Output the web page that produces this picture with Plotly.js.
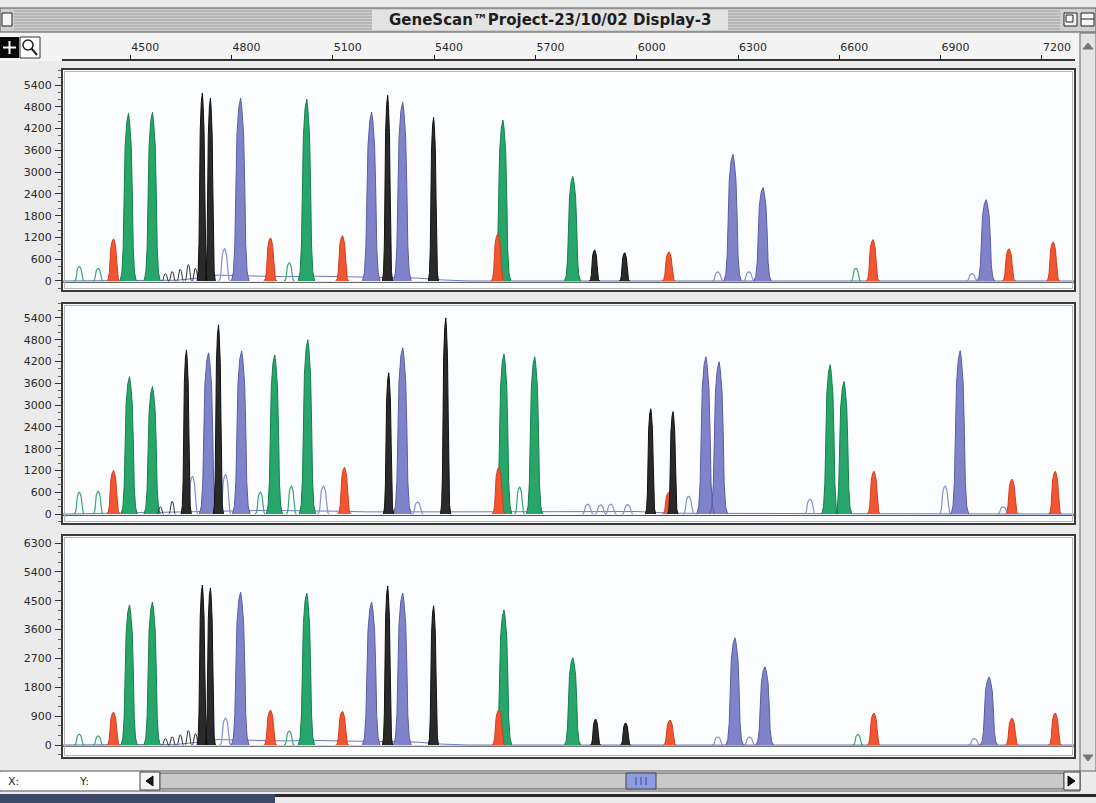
<!DOCTYPE html>
<html><head><meta charset="utf-8">
<script src="https://cdn.plot.ly/plotly-3.0.1.min.js"></script>
<style>html,body{margin:0;padding:0;background:#ebebeb;overflow:hidden}#chart{width:1096px;height:803px}</style>
</head><body><div id="chart"></div>
<script>
// ================= DATA =================
const titleText = 'GeneScan\u2122Project-23/10/02 Display-3';
const xTickVals = [4500, 4800, 5100, 5400, 5700, 6000, 6300, 6600, 6900, 7200];
const xTickText = ['4500', '4800', '5100', '5400', '5700', '6000', '6300', '6600', '6900', '7200'];
const yTicksA = [0, 600, 1200, 1800, 2400, 3000, 3600, 4200, 4800, 5400];
const yTicksB = [0, 900, 1800, 2700, 3600, 4500, 5400, 6300];

// Panel 1
const p1GreenPos = [4494, 4565, 5022, 5603, 5810];
const p1GreenHt  = [4620, 4650, 5010, 4430, 2880];
const p1GreenOutPos = [4349, 4405, 4971, 6649];
const p1GreenOutHt  = [400, 350, 500, 350];
const p1BluePos = [4826, 5214, 5306, 6284, 6373, 7034];
const p1BlueHt  = [5040, 4650, 4930, 3490, 2575, 2240];
const p1BlueOutPos = [4779, 6240, 6332, 6993];
const p1BlueOutHt  = [890, 250, 250, 200];
const p1BlackPos = [4713, 4737, 5262, 5398, 5875, 5964];
const p1BlackHt  = [5180, 5040, 5120, 4510, 860, 780];
const p1BlackSmPos = [4604, 4624, 4648, 4672, 4693];
const p1BlackSmHt  = [200, 260, 320, 450, 350];
const p1RedPos = [4450, 4915, 5128, 5588, 6095, 6699, 7102, 7233];
const p1RedHt  = [1160, 1190, 1250, 1300, 800, 1140, 890, 1080];
const p1BaseX = [4300, 4640, 4700, 4760, 4850, 4950, 5050, 5150, 5250, 5350, 5420, 5500, 7298];
const p1BaseY = [0, 20, 80, 160, 140, 120, 130, 110, 100, 80, 30, 0, 0];

// Panel 2
const p2GreenPos = [4497, 4565, 4927, 5025, 5606, 5697, 6572, 6613];
const p2GreenHt  = [3780, 3510, 4380, 4800, 4410, 4330, 4110, 3650];
const p2GreenOutPos = [4349, 4405, 4885, 4977, 5653];
const p2GreenOutHt  = [600, 630, 600, 770, 740];
const p2BluePos = [4731, 4829, 5306, 6204, 6243, 6957];
const p2BlueHt  = [4440, 4490, 4580, 4330, 4190, 4500];
const p2BlueOutPos = [4684, 4782, 5072, 5351, 5855, 5893, 5923, 5973, 6154, 6513, 6913, 7085];
const p2BlueOutHt  = [1040, 1100, 770, 330, 270, 250, 270, 260, 490, 410, 770, 200];
const p2BlackPos = [4666, 4761, 5265, 5434, 6041, 6107];
const p2BlackHt  = [4520, 5210, 3890, 5400, 2900, 2820];
const p2BlackSmPos = [4589, 4624];
const p2BlackSmHt  = [200, 350];
const p2RedPos = [4450, 5134, 5591, 6095, 6702, 7111, 7239];
const p2RedHt  = [1200, 1290, 1290, 600, 1180, 960, 1180];
const p2BaseX = [4300, 4600, 4900, 5100, 5200, 5450, 5550, 5800, 6000, 6060, 6150, 7298];
const p2BaseY = [0, 60, 100, 80, 60, 60, 60, 80, 70, 40, 20, 0];

// Panel 3
const p3GreenPos = [4497, 4565, 5022, 5606, 5810];
const p3GreenHt  = [4370, 4460, 4740, 4210, 2720];
const p3GreenOutPos = [4349, 4405, 4971, 6655];
const p3GreenOutHt  = [340, 280, 440, 330];
const p3BluePos = [4826, 5214, 5306, 6290, 6379, 7043];
const p3BlueHt  = [4770, 4460, 4740, 3340, 2440, 2120];
const p3BlueOutPos = [4782, 6240, 6334, 7000];
const p3BlueOutHt  = [840, 250, 250, 200];
const p3BlackPos = [4713, 4737, 5262, 5398, 5878, 5967];
const p3BlackHt  = [4990, 4900, 4960, 4340, 810, 690];
const p3BlackSmPos = [4604, 4624, 4648, 4672, 4693];
const p3BlackSmHt  = [200, 260, 320, 450, 350];
const p3RedPos = [4450, 4915, 5128, 5591, 6098, 6702, 7111, 7239];
const p3RedHt  = [1030, 1090, 1050, 1090, 780, 1000, 840, 1000];
const p3BaseX = [4300, 4640, 4700, 4760, 4850, 4950, 5050, 5150, 5250, 5350, 5420, 5500, 7298];
const p3BaseY = [0, 20, 90, 170, 150, 130, 140, 120, 110, 90, 30, 0, 0];

// ================= STYLE =================
const W = 1096, H = 803;
const PROFILE = [[0,1],[0.05,0.78],[0.2,0.62],[0.5,0.52],[0.8,0.38],[0.95,0.17],[1,0.04]];
const STY = {
  green:    {hw: 24, line: '#14804d', fill: '#27a56a', fillMode: true,  width: 1},
  greenOut: {hw: 15, line: '#3aa874', fillMode: false, width: 1.2},
  blue:     {hw: 26, line: '#5a5ca6', fill: '#8083c9', fillMode: true,  width: 1},
  blueOut:  {hw: 17, line: '#8a8fcf', fillMode: false, width: 1.2},
  black:    {hw: 15, line: '#111111', fill: '#2a2a2a', fillMode: true,  width: 1},
  blackSm:  {hw: 10, line: '#333333', fillMode: false, width: 1},
  red:      {hw: 19, line: '#d83c1e', fill: '#f0562f', fillMode: true,  width: 1}
};
const FONT = 'DejaVu Sans, Liberation Sans, sans-serif';

function px(x){return x / W;}
function py(y){return 1 - y / H;}

function peakTrace(pos, ht, sty, ax){
  const xs = [], ys = [];
  pos.forEach((c, i) => {
    const h = ht[i];
    PROFILE.forEach(([fy, fw]) => { xs.push(c - fw * sty.hw); ys.push(fy * h); });
    PROFILE.slice().reverse().forEach(([fy, fw]) => { xs.push(c + fw * sty.hw); ys.push(fy * h); });
    xs.push(null); ys.push(null);
  });
  const t = {type: 'scatter', mode: 'lines', x: xs, y: ys, xaxis: ax[0], yaxis: ax[1],
    line: {color: sty.line, width: sty.width}, hoverinfo: 'skip', connectgaps: false};
  if (sty.fillMode) { t.fill = 'toself'; t.fillcolor = sty.fill; }
  return t;
}
function baseTrace(xs, ys, ax, color){
  return {type: 'scatter', mode: 'lines', x: xs, y: ys, xaxis: ax[0], yaxis: ax[1],
    line: {color: color, width: 1}, hoverinfo: 'skip'};
}
function flatTrace(xs, ax){
  return {type: 'scatter', mode: 'lines', x: [xs[0], xs[xs.length-1]], y: [-40, -40], xaxis: ax[0], yaxis: ax[1],
    line: {color: '#555', width: 1}, hoverinfo: 'skip'};
}

function panel(ax, d){
  return [
    flatTrace(d.baseX, ax),
    baseTrace(d.baseX, d.baseY, ax, '#6f78c4'),
    peakTrace(d.blueOutPos, d.blueOutHt, STY.blueOut, ax),
    peakTrace(d.greenOutPos, d.greenOutHt, STY.greenOut, ax),
    peakTrace(d.bluePos, d.blueHt, STY.blue, ax),
    peakTrace(d.greenPos, d.greenHt, STY.green, ax),
    peakTrace(d.redPos, d.redHt, STY.red, ax),
    peakTrace(d.blackSmPos, d.blackSmHt, STY.blackSm, ax),
    peakTrace(d.blackPos, d.blackHt, STY.black, ax)
  ];
}

const traces = [].concat(
  panel(['x','y'], {greenPos:p1GreenPos, greenHt:p1GreenHt, greenOutPos:p1GreenOutPos, greenOutHt:p1GreenOutHt,
    bluePos:p1BluePos, blueHt:p1BlueHt, blueOutPos:p1BlueOutPos, blueOutHt:p1BlueOutHt,
    blackPos:p1BlackPos, blackHt:p1BlackHt, blackSmPos:p1BlackSmPos, blackSmHt:p1BlackSmHt,
    redPos:p1RedPos, redHt:p1RedHt, baseX:p1BaseX, baseY:p1BaseY}),
  panel(['x2','y2'], {greenPos:p2GreenPos, greenHt:p2GreenHt, greenOutPos:p2GreenOutPos, greenOutHt:p2GreenOutHt,
    bluePos:p2BluePos, blueHt:p2BlueHt, blueOutPos:p2BlueOutPos, blueOutHt:p2BlueOutHt,
    blackPos:p2BlackPos, blackHt:p2BlackHt, blackSmPos:p2BlackSmPos, blackSmHt:p2BlackSmHt,
    redPos:p2RedPos, redHt:p2RedHt, baseX:p2BaseX, baseY:p2BaseY}),
  panel(['x3','y3'], {greenPos:p3GreenPos, greenHt:p3GreenHt, greenOutPos:p3GreenOutPos, greenOutHt:p3GreenOutHt,
    bluePos:p3BluePos, blueHt:p3BlueHt, blueOutPos:p3BlueOutPos, blueOutHt:p3BlueOutHt,
    blackPos:p3BlackPos, blackHt:p3BlackHt, blackSmPos:p3BlackSmPos, blackSmHt:p3BlackSmHt,
    redPos:p3RedPos, redHt:p3RedHt, baseX:p3BaseX, baseY:p3BaseY})
);

// ================= LAYOUT =================
const XD = [px(62), px(1075)];
const PANELS = [[69, 291], [303, 524], [535, 758]];
function yAxis(domPx, range, ticks, minorStep, anchor){
  return {domain: [py(domPx[1]), py(domPx[0])], range: range, anchor: anchor,
    tickvals: ticks, ticktext: ticks.map(String), ticks: 'outside', ticklen: 6, tickwidth: 1, tickcolor: '#333',
    ticklabelstandoff: 1,
    minor: {ticks: 'outside', ticklen: 3, dtick: minorStep, tick0: 0, tickcolor: '#666', showgrid: false},
    showgrid: false, zeroline: false, showline: false, fixedrange: true,
    tickfont: {family: FONT, size: 11, color: '#2a2a2a'}};
}

const shapes = [];
function rect(x0, y0, x1, y1, fill, line, lw, layer){
  shapes.push({type: 'rect', xref: 'paper', yref: 'paper', x0: px(x0), x1: px(x1), y0: py(y1), y1: py(y0),
    fillcolor: fill, line: {color: line || 'rgba(0,0,0,0)', width: lw === undefined ? 1 : lw}, layer: layer || 'below'});
}
function seg(x0, y0, x1, y1, color, lw, layer){
  shapes.push({type: 'line', xref: 'paper', yref: 'paper', x0: px(x0), x1: px(x1), y0: py(y0), y1: py(y1),
    line: {color: color, width: lw || 1}, layer: layer || 'above'});
}
function path(d, fill, layer){
  shapes.push({type: 'path', xref: 'paper', yref: 'paper', path: d, fillcolor: fill, line: {color: fill, width: 1}, layer: layer || 'above'});
}
function P(x, y){return px(x) + ',' + py(y);}

// title bar
rect(0, 8, 1096, 32, '#cfcfcf', '#555', 1);
for (let y = 11; y <= 29; y += 3) seg(14, y, 1060, y, '#9d9d9d', 1, 'below');
rect(372, 10, 728, 30, '#e3e3e3', null, 0);
rect(2, 13, 12, 26, '#f5f5f5', '#222', 1, 'above');
rect(1064, 13, 1077, 26, '#f5f5f5', '#222', 1, 'above');
rect(1066, 15, 1073, 22, 'rgba(0,0,0,0)', '#222', 1, 'above');
rect(1081, 13, 1094, 26, '#f5f5f5', '#222', 1, 'above');
seg(1081, 19, 1094, 19, '#222', 1);
// ruler row
rect(0, 33, 1080, 61, '#f4f4f4', null, 0);
rect(0, 37, 19, 58, '#0a0a0a', null, 0, 'above');
seg(9.5, 41, 9.5, 54, '#ffffff', 2);
seg(3, 47.5, 16, 47.5, '#ffffff', 2);
rect(20, 37, 40, 58, '#ffffff', '#333', 1, 'above');
shapes.push({type: 'circle', xref: 'paper', yref: 'paper', x0: px(23), x1: px(33), y0: py(50), y1: py(40),
  line: {color: '#222', width: 1.5}, layer: 'above'});
seg(31.5, 48.5, 37, 55, '#222', 2);
// panels
PANELS.forEach(([a, b]) => {
  rect(62, a, 1075, b, '#fcfdff', null, 0, 'below');
  rect(62, a, 1075, b, 'rgba(0,0,0,0)', '#3a3a3a', 2, 'above');
  rect(64.5, a + 2.5, 1072.5, b - 2.5, 'rgba(0,0,0,0)', '#b4b4b4', 1, 'above');
});
// right vertical scrollbar
rect(1080, 33, 1096, 771, '#e4e4e4', '#666', 1, 'above');
path('M' + P(1083, 49) + ' L' + P(1088, 43) + ' L' + P(1093, 49) + ' Z', '#777');
path('M' + P(1083, 755) + ' L' + P(1088, 761) + ' L' + P(1093, 755) + ' Z', '#777');
// bottom scrollbar
rect(0, 771, 1080, 791, '#f2f2f2', '#555', 1, 'above');
rect(0, 772, 140, 790, '#ffffff', null, 0, 'above');
rect(140, 772, 160, 790, '#f4f4f4', '#444', 1, 'above');
path('M' + P(146, 781) + ' L' + P(153, 776) + ' L' + P(153, 786) + ' Z', '#111');
rect(160, 773, 1064, 789, '#c9c9c9', '#555', 1, 'above');
rect(626, 773, 656, 789, '#8f9be0', '#444', 1, 'above');
[636, 641, 646].forEach(x => seg(x, 777, x, 785, '#3a4aa8', 1));
rect(1064, 772, 1080, 790, '#f4f4f4', '#444', 1, 'above');
path('M' + P(1075, 781) + ' L' + P(1068, 776) + ' L' + P(1068, 786) + ' Z', '#111');
// bottom strip
rect(0, 794, 275, 803, '#3d4768', null, 0, 'above');
rect(275, 794, 1096, 797, '#2a2a2a', null, 0, 'above');

const annotations = [
  {xref: 'paper', yref: 'paper', x: px(550), y: py(20), text: '<b>' + titleText + '</b>', showarrow: false,
   xanchor: 'center', yanchor: 'middle', font: {family: FONT, size: 15, color: '#1e1e1e'}},
  {xref: 'paper', yref: 'paper', x: px(13), y: py(781), text: 'X:', showarrow: false,
   xanchor: 'center', yanchor: 'middle', font: {family: FONT, size: 11, color: '#222'}},
  {xref: 'paper', yref: 'paper', x: px(84), y: py(781), text: 'Y:', showarrow: false,
   xanchor: 'center', yanchor: 'middle', font: {family: FONT, size: 11, color: '#222'}}
];

const layout = {
  width: W, height: H, margin: {l: 0, r: 0, t: 0, b: 0, pad: 0},
  paper_bgcolor: '#ebebeb', plot_bgcolor: 'rgba(0,0,0,0)', showlegend: false,
  xaxis: {domain: XD, range: [4298, 7298], side: 'top', anchor: 'free', position: py(60),
    tickvals: xTickVals, ticktext: xTickText, ticks: 'outside', ticklen: 4, tickcolor: '#222', tickwidth: 1,
    ticklabelshift: 15, ticklabelstandoff: 0,
    showline: true, linecolor: '#333', linewidth: 2, showgrid: false, zeroline: false, fixedrange: true,
    tickfont: {family: FONT, size: 11, color: '#2a2a2a'}},
  xaxis2: {matches: 'x', domain: XD, anchor: 'y2', visible: false, showgrid: false, zeroline: false},
  xaxis3: {matches: 'x', domain: XD, anchor: 'y3', visible: false, showgrid: false, zeroline: false},
  yaxis:  yAxis(PANELS[0], [-277, 5843], yTicksA, 200, 'x'),
  yaxis2: yAxis(PANELS[1], [-274, 5811], yTicksA, 200, 'x2'),
  yaxis3: yAxis(PANELS[2], [-405, 6550], yTicksB, 300, 'x3'),
  shapes: shapes, annotations: annotations
};

Plotly.newPlot('chart', traces, layout, {staticPlot: true, displayModeBar: false});
</script></body></html>
